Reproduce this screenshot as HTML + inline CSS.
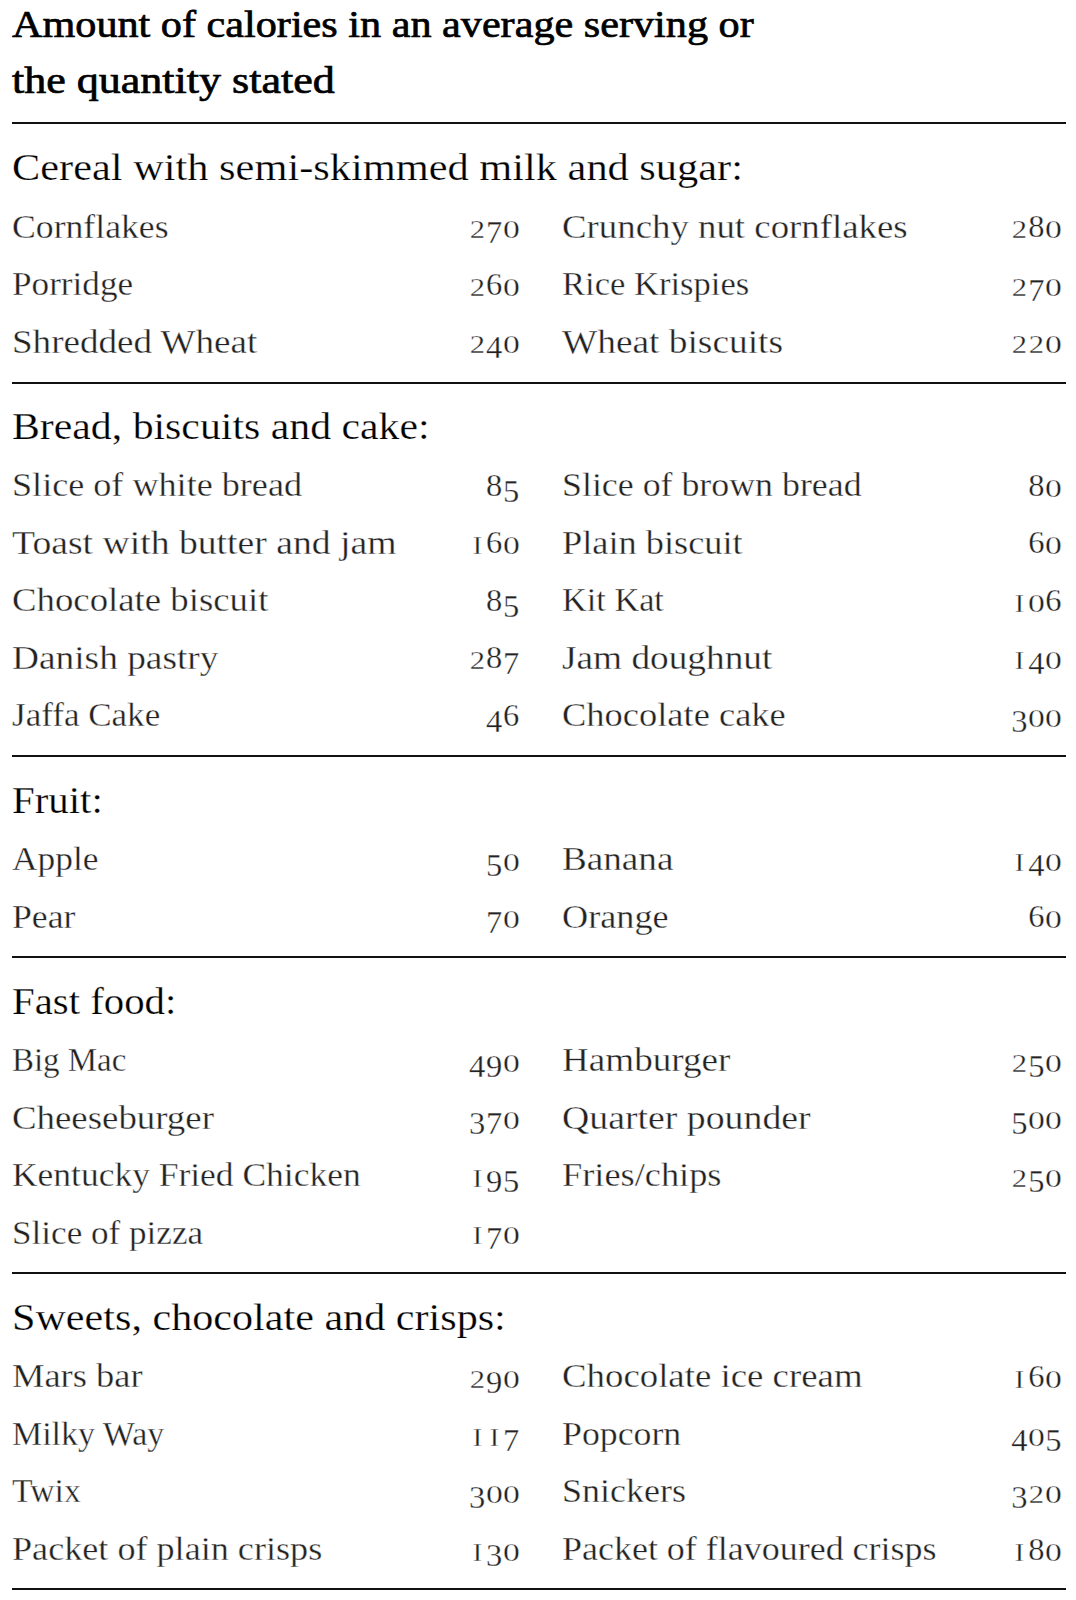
<!DOCTYPE html>
<html><head><meta charset="utf-8"><style>
html,body{margin:0;padding:0;background:#fff;width:1076px;height:1600px;overflow:hidden;position:relative}
div{position:absolute;line-height:0;white-space:nowrap;font-family:"Liberation Serif",serif;color:#111;transform-origin:0 0}
.t{font-size:38.5px;font-weight:normal;color:#000;-webkit-text-stroke:0.7px #000}
.h{font-size:38.5px;color:#000;-webkit-text-stroke:0.25px #fff}
.i{font-size:34.5px;color:#222;-webkit-text-stroke:0.35px #fff}
.n{font-size:34.5px;color:#222;-webkit-text-stroke:0.3px #fff}
.d{font-style:normal;position:relative;top:1px;display:inline-block;width:17px;text-align:center;font-size:25.5px;transform:scaleX(1.2)}
.dd{position:relative;top:6px;font-size:32.5px;transform:none}
.du{font-size:32.5px;transform:none;top:0}
.one{transform:scaleX(1.1)}
.zero{transform:scaleX(1.32)}
.rule{left:12px;width:1054px;height:2px;background:#111}
</style></head><body>
<div class="t" style="left:12px;top:23.50px;transform:scaleX(1.0960)">Amount of calories in an average serving or</div>
<div class="t" style="left:12px;top:80.20px;transform:scaleX(1.1433)">the quantity stated</div>
<div class="rule" style="top:122.00px"></div>
<div class="h" style="left:12px;top:167.49px;transform:scaleX(1.1008)">Cereal with semi-skimmed milk and sugar:</div>
<div class="i" style="left:12px;top:225.72px;transform:scaleX(1.0341)">Cornflakes</div>
<div class="n r" style="right:556.5px;top:225.31px"><i class="d">2</i><i class="d dd">7</i><i class="d zero">0</i></div>
<div class="i" style="left:562px;top:225.72px;transform:scaleX(1.0674)">Crunchy nut cornflakes</div>
<div class="n r" style="right:14.200000000000045px;top:225.31px"><i class="d">2</i><i class="d du">8</i><i class="d zero">0</i></div>
<div class="i" style="left:12px;top:283.21px;transform:scaleX(1.0189)">Porridge</div>
<div class="n r" style="right:556.5px;top:282.81px"><i class="d">2</i><i class="d du">6</i><i class="d zero">0</i></div>
<div class="i" style="left:562px;top:283.21px;transform:scaleX(1.0024)">Rice Krispies</div>
<div class="n r" style="right:14.200000000000045px;top:282.81px"><i class="d">2</i><i class="d dd">7</i><i class="d zero">0</i></div>
<div class="i" style="left:12px;top:340.71px;transform:scaleX(1.0739)">Shredded Wheat</div>
<div class="n r" style="right:556.5px;top:340.31px"><i class="d">2</i><i class="d dd">4</i><i class="d zero">0</i></div>
<div class="i" style="left:562px;top:340.71px;transform:scaleX(1.0826)">Wheat biscuits</div>
<div class="n r" style="right:14.200000000000045px;top:340.31px"><i class="d">2</i><i class="d">2</i><i class="d zero">0</i></div>
<div class="rule" style="top:381.60px"></div>
<div class="h" style="left:12px;top:425.80px;transform:scaleX(1.0850)">Bread, biscuits and cake:</div>
<div class="i" style="left:12px;top:484.01px;transform:scaleX(1.0475)">Slice of white bread</div>
<div class="n r" style="right:556.5px;top:483.62px"><i class="d du">8</i><i class="d dd">5</i></div>
<div class="i" style="left:562px;top:484.01px;transform:scaleX(1.0389)">Slice of brown bread</div>
<div class="n r" style="right:14.200000000000045px;top:483.62px"><i class="d du">8</i><i class="d zero">0</i></div>
<div class="i" style="left:12px;top:541.51px;transform:scaleX(1.0920)">Toast with butter and jam</div>
<div class="n r" style="right:556.5px;top:541.12px"><i class="d one">I</i><i class="d du">6</i><i class="d zero">0</i></div>
<div class="i" style="left:562px;top:541.51px;transform:scaleX(1.0531)">Plain biscuit</div>
<div class="n r" style="right:14.200000000000045px;top:541.12px"><i class="d du">6</i><i class="d zero">0</i></div>
<div class="i" style="left:12px;top:599.01px;transform:scaleX(1.0663)">Chocolate biscuit</div>
<div class="n r" style="right:556.5px;top:598.62px"><i class="d du">8</i><i class="d dd">5</i></div>
<div class="i" style="left:562px;top:599.01px;transform:scaleX(0.9939)">Kit Kat</div>
<div class="n r" style="right:14.200000000000045px;top:598.62px"><i class="d one">I</i><i class="d zero">0</i><i class="d du">6</i></div>
<div class="i" style="left:12px;top:656.51px;transform:scaleX(1.0829)">Danish pastry</div>
<div class="n r" style="right:556.5px;top:656.12px"><i class="d">2</i><i class="d du">8</i><i class="d dd">7</i></div>
<div class="i" style="left:562px;top:656.51px;transform:scaleX(1.0812)">Jam doughnut</div>
<div class="n r" style="right:14.200000000000045px;top:656.12px"><i class="d one">I</i><i class="d dd">4</i><i class="d zero">0</i></div>
<div class="i" style="left:12px;top:714.01px;transform:scaleX(1.0156)">Jaffa Cake</div>
<div class="n r" style="right:556.5px;top:713.62px"><i class="d dd">4</i><i class="d du">6</i></div>
<div class="i" style="left:562px;top:714.01px;transform:scaleX(1.0569)">Chocolate cake</div>
<div class="n r" style="right:14.200000000000045px;top:713.62px"><i class="d dd">3</i><i class="d zero">0</i><i class="d zero">0</i></div>
<div class="rule" style="top:755.10px"></div>
<div class="h" style="left:12px;top:799.89px;transform:scaleX(1.0614)">Fruit:</div>
<div class="i" style="left:12px;top:858.12px;transform:scaleX(1.0260)">Apple</div>
<div class="n r" style="right:556.5px;top:857.72px"><i class="d dd">5</i><i class="d zero">0</i></div>
<div class="i" style="left:562px;top:858.12px;transform:scaleX(1.0770)">Banana</div>
<div class="n r" style="right:14.200000000000045px;top:857.72px"><i class="d one">I</i><i class="d dd">4</i><i class="d zero">0</i></div>
<div class="i" style="left:12px;top:915.62px;transform:scaleX(1.0349)">Pear</div>
<div class="n r" style="right:556.5px;top:915.22px"><i class="d dd">7</i><i class="d zero">0</i></div>
<div class="i" style="left:562px;top:915.62px;transform:scaleX(1.0502)">Orange</div>
<div class="n r" style="right:14.200000000000045px;top:915.22px"><i class="d du">6</i><i class="d zero">0</i></div>
<div class="rule" style="top:956.10px"></div>
<div class="h" style="left:12px;top:1000.89px;transform:scaleX(1.0597)">Fast food:</div>
<div class="i" style="left:12px;top:1059.12px;transform:scaleX(0.9548)">Big Mac</div>
<div class="n r" style="right:556.5px;top:1058.71px"><i class="d dd">4</i><i class="d dd">9</i><i class="d zero">0</i></div>
<div class="i" style="left:562px;top:1059.12px;transform:scaleX(1.0757)">Hamburger</div>
<div class="n r" style="right:14.200000000000045px;top:1058.71px"><i class="d">2</i><i class="d dd">5</i><i class="d zero">0</i></div>
<div class="i" style="left:12px;top:1116.62px;transform:scaleX(1.0680)">Cheeseburger</div>
<div class="n r" style="right:556.5px;top:1116.21px"><i class="d dd">3</i><i class="d dd">7</i><i class="d zero">0</i></div>
<div class="i" style="left:562px;top:1116.62px;transform:scaleX(1.0951)">Quarter pounder</div>
<div class="n r" style="right:14.200000000000045px;top:1116.21px"><i class="d dd">5</i><i class="d zero">0</i><i class="d zero">0</i></div>
<div class="i" style="left:12px;top:1174.12px;transform:scaleX(1.0279)">Kentucky Fried Chicken</div>
<div class="n r" style="right:556.5px;top:1173.71px"><i class="d one">I</i><i class="d dd">9</i><i class="d dd">5</i></div>
<div class="i" style="left:562px;top:1174.12px;transform:scaleX(1.0533)">Fries/chips</div>
<div class="n r" style="right:14.200000000000045px;top:1173.71px"><i class="d">2</i><i class="d dd">5</i><i class="d zero">0</i></div>
<div class="i" style="left:12px;top:1231.62px;transform:scaleX(1.0178)">Slice of pizza</div>
<div class="n r" style="right:556.5px;top:1231.21px"><i class="d one">I</i><i class="d dd">7</i><i class="d zero">0</i></div>
<div class="rule" style="top:1272.10px"></div>
<div class="h" style="left:12px;top:1317.20px;transform:scaleX(1.0945)">Sweets, chocolate and crisps:</div>
<div class="i" style="left:12px;top:1375.42px;transform:scaleX(1.0569)">Mars bar</div>
<div class="n r" style="right:556.5px;top:1375.02px"><i class="d">2</i><i class="d dd">9</i><i class="d zero">0</i></div>
<div class="i" style="left:562px;top:1375.42px;transform:scaleX(1.0673)">Chocolate ice cream</div>
<div class="n r" style="right:14.200000000000045px;top:1375.02px"><i class="d one">I</i><i class="d du">6</i><i class="d zero">0</i></div>
<div class="i" style="left:12px;top:1432.92px;transform:scaleX(0.9840)">Milky Way</div>
<div class="n r" style="right:556.5px;top:1432.52px"><i class="d one">I</i><i class="d one">I</i><i class="d dd">7</i></div>
<div class="i" style="left:562px;top:1432.92px;transform:scaleX(1.0367)">Popcorn</div>
<div class="n r" style="right:14.200000000000045px;top:1432.52px"><i class="d dd">4</i><i class="d zero">0</i><i class="d dd">5</i></div>
<div class="i" style="left:12px;top:1490.42px;transform:scaleX(0.9771)">Twix</div>
<div class="n r" style="right:556.5px;top:1490.02px"><i class="d dd">3</i><i class="d zero">0</i><i class="d zero">0</i></div>
<div class="i" style="left:562px;top:1490.42px;transform:scaleX(1.0430)">Snickers</div>
<div class="n r" style="right:14.200000000000045px;top:1490.02px"><i class="d dd">3</i><i class="d">2</i><i class="d zero">0</i></div>
<div class="i" style="left:12px;top:1547.92px;transform:scaleX(1.0478)">Packet of plain crisps</div>
<div class="n r" style="right:556.5px;top:1547.52px"><i class="d one">I</i><i class="d dd">3</i><i class="d zero">0</i></div>
<div class="i" style="left:562px;top:1547.92px;transform:scaleX(1.0425)">Packet of flavoured crisps</div>
<div class="n r" style="right:14.200000000000045px;top:1547.52px"><i class="d one">I</i><i class="d du">8</i><i class="d zero">0</i></div>
<div class="rule" style="top:1588.10px"></div>
</body></html>
